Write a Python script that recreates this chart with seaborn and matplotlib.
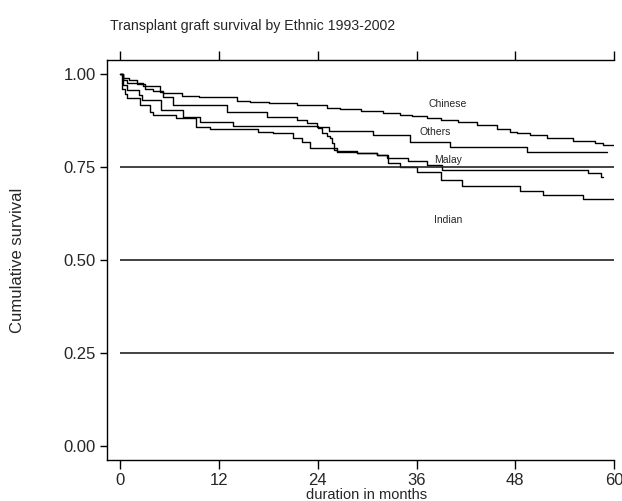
import pandas as pd
import matplotlib
matplotlib.use("Agg")
import matplotlib.pyplot as plt
import seaborn as sns

# Kaplan-Meier step values (months, cumulative survival)
chinese_t = [0, 0.3, 1.0, 2.0, 3.0, 4.0, 5.2, 7.5, 9.5, 14.2, 15.7, 18.0, 21.5, 25.1,
             26.7, 29.3, 31.9, 34.0, 35.4, 37.3, 39.0, 41.0, 43.3, 45.8, 47.4, 48.2,
             49.8, 51.9, 55.0, 57.7, 58.7, 60.0]
chinese_s = [1.0, 0.99, 0.984, 0.972, 0.96, 0.954, 0.948, 0.942, 0.937, 0.928, 0.924,
             0.921, 0.917, 0.909, 0.905, 0.901, 0.896, 0.890, 0.886, 0.881, 0.876, 0.870,
             0.863, 0.851, 0.845, 0.841, 0.836, 0.827, 0.821, 0.815, 0.809, 0.809]

others_t = [0, 0.3, 0.8, 2.7, 4.8, 5.2, 6.4, 12.9, 17.8, 21.5, 22.7, 23.9, 25.3, 30.7,
            35.2, 40.1, 49.4, 59.1]
others_s = [1.0, 0.985, 0.975, 0.968, 0.952, 0.939, 0.917, 0.899, 0.885, 0.875, 0.867,
            0.857, 0.847, 0.836, 0.818, 0.805, 0.789, 0.789]

malay_t = [0, 0.3, 0.8, 2.3, 2.6, 4.9, 7.6, 9.7, 13.7, 24.0, 24.5, 25.1, 25.5, 25.7,
           25.9, 26.3, 28.8, 31.2, 32.4, 35.0, 37.3, 39.1, 56.8, 58.4, 58.7]
malay_s = [1.0, 0.97, 0.957, 0.944, 0.930, 0.903, 0.885, 0.872, 0.860, 0.854, 0.841,
           0.832, 0.827, 0.814, 0.796, 0.791, 0.787, 0.781, 0.773, 0.766, 0.755, 0.743,
           0.734, 0.724, 0.724]

indian_t = [0, 0.2, 0.5, 0.75, 2.4, 3.6, 4.0, 6.8, 9.2, 10.9, 16.7, 18.5, 21.0, 22.1,
            23.0, 26.3, 28.8, 31.2, 32.5, 34.0, 36.0, 39.0, 41.5, 48.6, 51.4, 56.2, 60.0]
indian_s = [1.0, 0.96, 0.945, 0.935, 0.917, 0.899, 0.890, 0.881, 0.857, 0.851, 0.845,
            0.842, 0.829, 0.818, 0.80, 0.793, 0.787, 0.782, 0.760, 0.749, 0.737, 0.715,
            0.699, 0.686, 0.675, 0.663, 0.663]

groups = ["Chinese", "Others", "Malay", "Indian"]
label_x = [39.8, 38.2, 39.8, 39.8]
label_y = [0.919, 0.845, 0.769, 0.607]
ref_levels = [0.25, 0.50, 0.75]
x_ticks = [0, 12, 24, 36, 48, 60]
y_ticks = [0.0, 0.25, 0.50, 0.75, 1.00]

frames = []
for name, t, s in zip(groups,
                      [chinese_t, others_t, malay_t, indian_t],
                      [chinese_s, others_s, malay_s, indian_s]):
    frames.append(pd.DataFrame({"time": t, "survival": s, "ethnic": name}))
df = pd.concat(frames, ignore_index=True)

sns.set_style("white")
plt.rcParams["font.family"] = ["Liberation Sans", "DejaVu Sans"]

fig = plt.figure(figsize=(6.22, 5.01), dpi=100)
ax = fig.add_axes([107 / 622, 41 / 501, 507 / 622, 400 / 501])

sns.lineplot(data=df, x="time", y="survival", hue="ethnic", units="ethnic",
             estimator=None, palette=["black"] * 4, drawstyle="steps-post",
             linewidth=1.0, legend=False, ax=ax)

ax.hlines(ref_levels, 0, 60, color="#222222", linewidth=1.2)

for name, lx, ly in zip(groups, label_x, label_y):
    ax.text(lx, ly, name, ha="center", va="center", fontsize=7.5)

ax.set_xlim(-1.64, 60)
ax.set_ylim(-0.0376, 1.0376)
ax.set_xticks(x_ticks)
ax.set_yticks(y_ticks)
ax.set_yticklabels([f"{v:.2f}" for v in y_ticks])
ax.set_xlabel("")
ax.set_ylabel("")

for side in ["left", "top", "bottom"]:
    ax.spines[side].set_visible(True)
    ax.spines[side].set_color("black")
    ax.spines[side].set_linewidth(1.0)
ax.spines["right"].set_visible(False)

ax.tick_params(axis="x", which="both", bottom=True, top=True, direction="out",
               length=6.5, width=1.0, labelsize=12, pad=3, color="black")
ax.tick_params(axis="y", left=True, right=False, direction="out",
               length=5, width=1.0, labelsize=12, pad=3, color="black")

fig.text(110 / 622, 1 - 26 / 501, "Transplant graft survival by Ethnic 1993-2002",
         ha="left", va="center", fontsize=10.2)
fig.text(18 / 622, 1 - 260 / 501, "Cumulative survival", rotation=90,
         ha="center", va="center", fontsize=12)
fig.text(367 / 622, 1 - 495 / 501, "duration in months", ha="center", va="center",
         fontsize=10.5)

fig.savefig("out.png", dpi=100)
